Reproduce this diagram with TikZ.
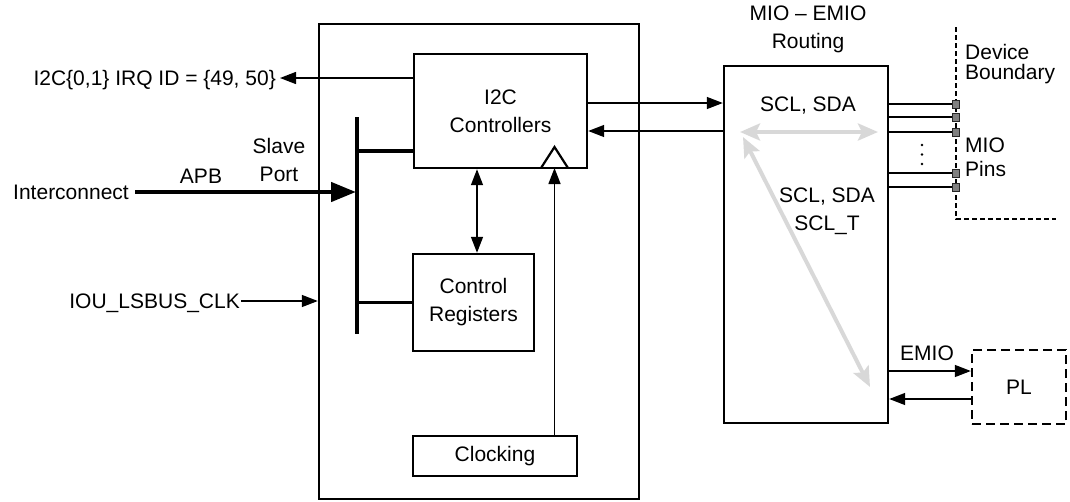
\documentclass[tikz,border=0pt]{standalone}
\usepackage{fontspec}
\setmainfont{Liberation Sans}
\usetikzlibrary{arrows.meta}
\newcommand\lblfont{\fontsize{21}{28}\selectfont}
\definecolor{lgray}{HTML}{D8D8D8}
\tikzset{
  box/.style={draw, line width=2.4pt, inner sep=0pt, align=center, font=\lblfont},
  lab/.style={inner sep=0pt, font=\lblfont, text height=15pt, text depth=0pt},
  mlab/.style={inner sep=0pt, font=\lblfont, align=center},
  thinln/.style={line width=1.4pt},
  tarrow/.style={thinln, -{Triangle[length=16pt,width=12pt]}},
  dtarrow/.style={thinln, {Triangle[length=16pt,width=12pt]}-{Triangle[length=16pt,width=12pt]}},
  busln/.style={line width=4.5pt},
  brln/.style={line width=3.5pt},
  busarrow/.style={line width=4.5pt, -{Triangle[length=25pt,width=19pt]}},
  grayarrow/.style={line width=4pt, color=lgray, {Stealth[length=20pt,width=17pt,inset=4pt]}-{Stealth[length=20pt,width=17pt,inset=4pt]}},
  pinsq/.style={draw=black!85, fill=black!50, line width=0.9pt, minimum width=7pt, minimum height=8pt, inner sep=0pt},
}
\begin{document}
\begin{tikzpicture}[x=1pt,y=-1pt]
\useasboundingbox (0,0) rectangle (1070,501);

% main boxes
\node[box, minimum width=320pt, minimum height=475pt] (core) at (479,261.5) {};
\node[box, minimum width=173pt, minimum height=114pt] (i2c) at (500.5,111) {I2C\\Controllers};
\node[box, minimum width=121pt, minimum height=97pt] (cr) at (473.5,302.5) {Control\\Registers};
\node[box, minimum width=164pt, minimum height=40pt] (clk) at (495,456) {Clocking};
\node[box, minimum width=164pt, minimum height=357pt] (mio) at (806,244.5) {};
\node[box, dash pattern=on 9pt off 5pt, minimum width=94pt, minimum height=74pt] (pl) at (1019,387) {PL};

% clock triangle
\coordinate (tribase) at (554.5,168);
\draw[line width=2.2pt, line join=miter] (541,168) -- (554.5,147) -- (568,168);

% labels
\node[lab, anchor=east] (irq) at (276,78) {I2C\{0,1\} IRQ ID = \{49, 50\}};
\node[lab, anchor=east] (ic) at (129,192) {Interconnect};
\node[lab, anchor=east] (iou) at (240,301) {IOU\_LSBUS\_CLK};
\node[lab] (apb) at (201,176) {APB};
\node[mlab] (slave) at (279,160) {Slave\\Port};
\node[mlab] (miot) at (808,29) {MIO – EMIO\\Routing};
\node[lab] (scl1) at (808,104) {SCL, SDA};
\node[mlab] (scl2) at (827,211) {SCL, SDA\\SCL\_T};
\node[mlab, anchor=north west, align=left, font=\fontsize{21}{20}\selectfont] (dev) at (965,44) {Device\\Boundary};
\node[mlab, anchor=north west, align=left, font=\fontsize{21}{24}\selectfont] (mpins) at (965,137.5) {MIO\\Pins};
\node[lab] (emio) at (927,353) {EMIO};

% bus
\coordinate (bt) at (357,117);
\coordinate (bb) at (357,334);
\draw[busln] (bt) -- (bb);
\draw[brln] (bt |- 0,151) -- (i2c.west |- 0,151);
\draw[brln] (bt |- cr.west) -- (cr.west);
\draw[busarrow, shorten <=6pt, shorten >=1pt] (ic.east) -- (bt |- ic.east);

% thin connectors
\draw[tarrow] (i2c.west |- irq.east) -- ([xshift=4pt]irq.east);
\draw[tarrow, shorten <=1pt] (iou.east) -- (core.west |- iou.east);
\draw[tarrow] (i2c.east |- 0,103) -- (mio.west |- 0,103);
\draw[tarrow] (mio.west |- 0,131) -- (i2c.east |- 0,131);
\draw[dtarrow] (i2c.south -| 477,0) -- (cr.north -| 477,0);
\draw[tarrow] (clk.north -| tribase) -- (tribase);
\draw[tarrow] (mio.east |- 0,371) -- (pl.west |- 0,371);
\draw[tarrow] (pl.west |- 0,399) -- (mio.east |- 0,399);

% gray routing arrows
\coordinate (g1) at (740,132);
\coordinate (g2) at (878,132);
\coordinate (g3) at (743,137);
\coordinate (g4) at (870,387);
\draw[grayarrow] (g1) -- (g2);
\draw[grayarrow] (g3) -- (g4);

% device boundary
\coordinate (db1) at (956,27);
\coordinate (db2) at (956,219);
\coordinate (db3) at (1056,219);
\draw[thinln, dash pattern=on 5pt off 3pt] (db1) -- (db2) -- (db3);

% pins
\foreach \yy/\nn in {104/p1,117/p2,132/p3,173/p4,187/p5}{
  \node[pinsq] (\nn) at (956,\yy) {};
  \draw[thinln] (mio.east |- \nn) -- (\nn.west);
}
\foreach \yy in {145,154.5,164}{
  \fill (922,\yy) circle (1.3pt);
}
\end{tikzpicture}
\end{document}
